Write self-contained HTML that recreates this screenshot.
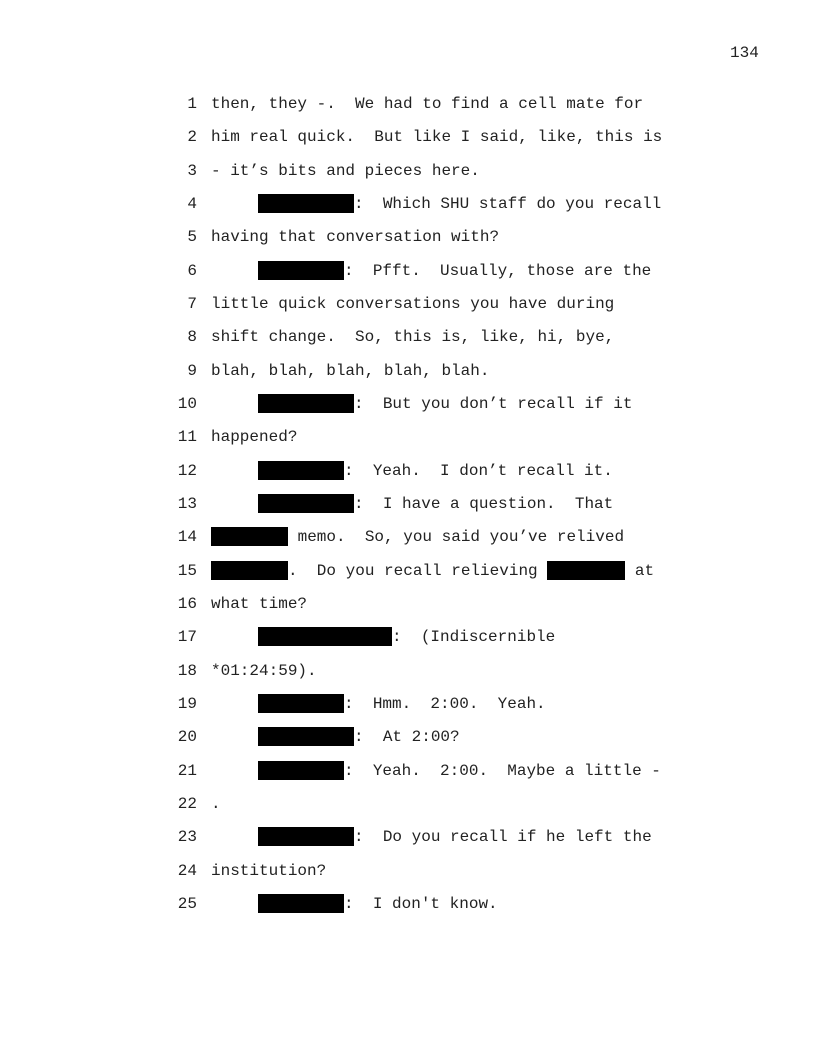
<!DOCTYPE html>
<html><head><meta charset="utf-8"><style>
body{margin:0;background:#fff;}
.pg{position:relative;width:816px;height:1056px;font-family:"Liberation Mono",monospace;font-size:16px;color:#222;}
.n{position:absolute;width:40px;left:157px;text-align:right;line-height:20px;}
.t{position:absolute;left:211px;line-height:20px;white-space:pre;}
.b{display:inline-block;background:#000;height:19px;vertical-align:-5px;}
.num{position:absolute;left:730px;top:43px;line-height:20px;}
</style></head><body><div class="pg">
<div class="num">134</div>
<div class="n" style="top:94px">1</div><div class="t" style="top:94px">then, they -.  We had to find a cell mate for</div>
<div class="n" style="top:127px">2</div><div class="t" style="top:127px">him real quick.  But like I said, like, this is</div>
<div class="n" style="top:161px">3</div><div class="t" style="top:161px">- it’s bits and pieces here.</div>
<div class="n" style="top:194px">4</div><div class="t" style="top:194px">     <span class="b" style="width:96px;margin-left:-1px"></span>:  Which SHU staff do you recall</div>
<div class="n" style="top:227px">5</div><div class="t" style="top:227px">having that conversation with?</div>
<div class="n" style="top:261px">6</div><div class="t" style="top:261px">     <span class="b" style="width:86px;margin-left:-1px"></span>:  Pfft.  Usually, those are the</div>
<div class="n" style="top:294px">7</div><div class="t" style="top:294px">little quick conversations you have during</div>
<div class="n" style="top:327px">8</div><div class="t" style="top:327px">shift change.  So, this is, like, hi, bye,</div>
<div class="n" style="top:361px">9</div><div class="t" style="top:361px">blah, blah, blah, blah, blah.</div>
<div class="n" style="top:394px">10</div><div class="t" style="top:394px">     <span class="b" style="width:96px;margin-left:-1px"></span>:  But you don’t recall if it</div>
<div class="n" style="top:427px">11</div><div class="t" style="top:427px">happened?</div>
<div class="n" style="top:461px">12</div><div class="t" style="top:461px">     <span class="b" style="width:86px;margin-left:-1px"></span>:  Yeah.  I don’t recall it.</div>
<div class="n" style="top:494px">13</div><div class="t" style="top:494px">     <span class="b" style="width:96px;margin-left:-1px"></span>:  I have a question.  That</div>
<div class="n" style="top:527px">14</div><div class="t" style="top:527px"><span class="b" style="width:77px"></span> memo.  So, you said you’ve relived</div>
<div class="n" style="top:561px">15</div><div class="t" style="top:561px"><span class="b" style="width:77px"></span>.  Do you recall relieving <span class="b" style="width:78px"></span> at</div>
<div class="n" style="top:594px">16</div><div class="t" style="top:594px">what time?</div>
<div class="n" style="top:627px">17</div><div class="t" style="top:627px">     <span class="b" style="width:134px;margin-left:-1px"></span>:  (Indiscernible</div>
<div class="n" style="top:661px">18</div><div class="t" style="top:661px">*01:24:59).</div>
<div class="n" style="top:694px">19</div><div class="t" style="top:694px">     <span class="b" style="width:86px;margin-left:-1px"></span>:  Hmm.  2:00.  Yeah.</div>
<div class="n" style="top:727px">20</div><div class="t" style="top:727px">     <span class="b" style="width:96px;margin-left:-1px"></span>:  At 2:00?</div>
<div class="n" style="top:761px">21</div><div class="t" style="top:761px">     <span class="b" style="width:86px;margin-left:-1px"></span>:  Yeah.  2:00.  Maybe a little -</div>
<div class="n" style="top:794px">22</div><div class="t" style="top:794px">.</div>
<div class="n" style="top:827px">23</div><div class="t" style="top:827px">     <span class="b" style="width:96px;margin-left:-1px"></span>:  Do you recall if he left the</div>
<div class="n" style="top:861px">24</div><div class="t" style="top:861px">institution?</div>
<div class="n" style="top:894px">25</div><div class="t" style="top:894px">     <span class="b" style="width:86px;margin-left:-1px"></span>:  I don't know.</div>
</div></body></html>
